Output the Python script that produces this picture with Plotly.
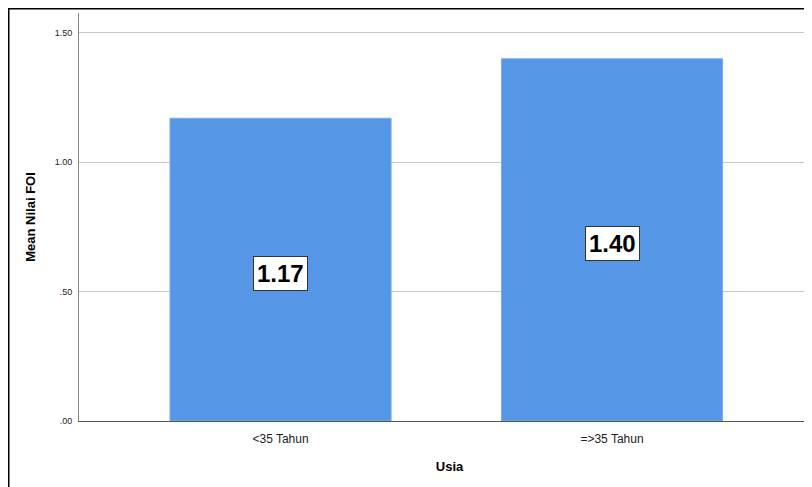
import plotly.graph_objects as go

categories = ["<35 Tahun", "=>35 Tahun"]
values = [1.17, 1.40]
labels = ["1.17", "1.40"]
y_ticks = [0, 0.5, 1.0, 1.5]
y_tick_text = [".00", ".50", "1.00", "1.50"]

# page has an 8px body margin, so the figure is offset by 8px
W, H = 812, 479
L, R, T, B = 71, 0, 5, 66
pw, ph = W - L - R, H - T - B

xpos = list(range(len(categories)))

fig = go.Figure()
fig.add_trace(go.Bar(
    x=xpos, y=values, width=0.667,
    marker=dict(color="#5596E6", line=dict(color="#78aceb", width=1)),
    hoverinfo="skip",
))

for xi, v, t in zip(xpos, values, labels):
    fig.add_annotation(
        x=xi, y=v / 2, yshift=-4, text="<b>" + t + "</b>", showarrow=False,
        font=dict(family="Liberation Sans, Arial", size=24, color="black"),
        bgcolor="white", bordercolor="#333", borderwidth=1, borderpad=3,
        xref="x", yref="y",
    )

# outer chart border
fig.add_shape(type="rect", xref="paper", yref="paper",
              x0=(0.5 - L) / pw, x1=1.2, y0=-0.3, y1=1 + (T - 0.5) / ph,
              line=dict(color="black", width=2), fillcolor="rgba(0,0,0,0)", layer="above")

fig.update_layout(
    width=W, height=H,
    margin=dict(l=L, r=R, t=T, b=B),
    paper_bgcolor="white", plot_bgcolor="white",
    showlegend=False,
    font=dict(family="Liberation Sans, Arial", color="black"),
    xaxis=dict(
        range=[-0.608, 1 + (820 - 612) / 331.5],
        tickmode="array", tickvals=xpos, ticktext=categories,
        tickfont=dict(size=12, color="#222"),
        showgrid=False, zeroline=False,
        showline=True, linecolor="#555", linewidth=1,
        ticks="", ticklen=0, ticklabelstandoff=7,
        title=dict(text="<b>Usia</b>", font=dict(size=13), standoff=16),
    ),
    yaxis=dict(
        range=[0, 1.577],
        tickmode="array", tickvals=y_ticks, ticktext=y_tick_text,
        tickfont=dict(size=9, color="#222"),
        showgrid=True, gridcolor="#c8c8c8", gridwidth=1,
        zeroline=False,
        showline=True, linecolor="#888", linewidth=1,
        ticks="", ticklen=0, ticklabelstandoff=4,
        title=dict(text="<b>Mean Nilai FOI</b>", font=dict(size=13), standoff=16),
    ),
)

fig.write_html("out.html")
